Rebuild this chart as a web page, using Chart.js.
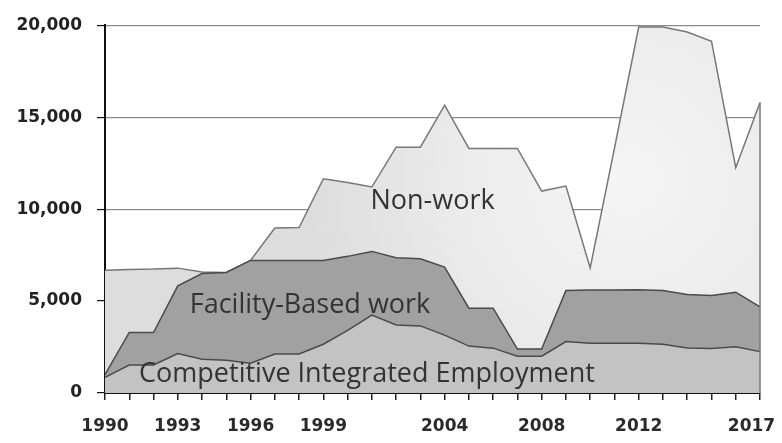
<!DOCTYPE html>
<html>
<head>
<meta charset="utf-8">
<script src="https://cdn.jsdelivr.net/npm/chart.js@4"></script>
<style>
  body{margin:0;background:#fff;}
  #wrap{width:782px;height:443px;}
</style>
</head>
<body>
<div id="wrap"><canvas id="chart" width="782" height="443"></canvas></div>
<script>
const years = ["1990","1991","1992","1993","1994","1995","1996","1997","1998","1999",
  "2000","2001","2002","2003","2004","2005","2006","2007","2008","2009",
  "2010","2011","2012","2013","2014","2015","2016","2017"];
const shownYears = ["1990","1993","1996","1999","2004","2008","2012","2017"];

// stacked from the bottom up
const cieValues      = [850,1520,1520,2150,1830,1780,1620,2120,2120,2650,3400,4240,3700,3650,3150,2550,2440,2000,2000,2800,2700,2700,2700,2650,2450,2420,2520,2250];
const facilityValues = [150,1770,1770,3680,4670,4770,5590,5090,5080,4550,4030,3460,3650,3650,3700,2060,2170,390,390,2770,2900,2900,2910,2920,2910,2880,2960,2430];
const nonworkValues  = [5680,3430,3450,960,80,0,0,1760,1800,4450,4020,3500,6020,6070,8800,8690,8690,10910,8590,5680,1200,7700,14290,14330,14270,13830,6770,11120];

const yTicks = [0,5000,10000,15000,20000];

// in-chart labels: [text, category index, value]
const areaLabels = [
  ["Non-work", 13.5, 10400],
  ["Facility-Based work", 8.45, 4750],
  ["Competitive Integrated Employment", 10.8, 1000]
];

function nonworkFill(ctx){
  const chart = ctx.chart, a = chart.chartArea;
  if(!a) return "#e0e0e0";
  const cx = a.left + (a.right-a.left)*0.8, cy = a.top + (a.bottom-a.top)*0.42;
  const g = chart.ctx.createRadialGradient(cx,cy,0,cx,cy,320);
  g.addColorStop(0,"#f5f5f5");
  g.addColorStop(0.55,"#ebebeb");
  g.addColorStop(1,"#dddddd");
  return g;
}

const decorations = {
  id:"decorations",
  afterDatasetsDraw(chart){
    const c = chart.ctx, x = chart.scales.x, y = chart.scales.y;
    const last = years.length-1;
    const total = cieValues[last]+facilityValues[last]+nonworkValues[last];
    c.save();
    c.strokeStyle = "#7a7a7a"; c.lineWidth = 1.5;
    c.beginPath();
    c.moveTo(x.getPixelForValue(last), y.getPixelForValue(0));
    c.lineTo(x.getPixelForValue(last), y.getPixelForValue(total));
    c.stroke();
    c.fillStyle = "#333";
    c.font = "27px 'Open Sans'";
    c.textAlign = "center"; c.textBaseline = "middle";
    areaLabels.forEach(([t,i,v])=>{
      c.fillText(t, x.left + (x.right-x.left)*i/last, y.getPixelForValue(v));
    });
    c.restore();
  }
};

new Chart(document.getElementById("chart"),{
  type:"line",
  data:{
    labels:years,
    datasets:[
      {label:"Competitive Integrated Employment", data:cieValues, fill:"origin",
       backgroundColor:"#c3c3c3", borderColor:"#4a4a4a", borderWidth:1.5},
      {label:"Facility-Based work", data:facilityValues, fill:"-1",
       backgroundColor:"#a1a1a1", borderColor:"#4a4a4a", borderWidth:1.5},
      {label:"Non-work", data:nonworkValues, fill:"-1",
       backgroundColor:nonworkFill, borderColor:"#777", borderWidth:1.5}
    ]
  },
  options:{
    responsive:false, animation:false, devicePixelRatio:1,
    layout:{padding:{top:16,right:22,left:0,bottom:0}},
    elements:{point:{radius:0}, line:{tension:0}},
    plugins:{legend:{display:false}, tooltip:{enabled:false}},
    scales:{
      x:{
        offset:false,
        grid:{drawOnChartArea:false, tickLength:7, color:"#222", lineWidth:1.5},
        border:{color:"#111", width:2},
        ticks:{autoSkip:false, maxRotation:0, padding:16, color:"#2a2a2a",
          font:{family:"DejaVu Sans", size:17, weight:"bold"},
          callback:(v,i)=>{
            if(!shownYears.includes(years[i])) return "";
            // last label is kept inside the right edge
            return i === years.length-1 ? years[i] + "\u2003" : years[i];
          }},
        afterFit(s){ s.paddingLeft = 0; s.paddingRight = 0; s.height = 50; }
      },
      y:{
        stacked:true, min:0, max:20000,
        afterBuildTicks(s){ s.ticks = yTicks.map(v=>({value:v})); },
        grid:{color:"#8a8a8a", tickColor:"#111", tickLength:8, lineWidth:1.2},
        border:{color:"#111", width:2},
        ticks:{padding:15, color:"#222", font:{family:"DejaVu Sans", size:17, weight:"bold"},
          callback:v=> v.toLocaleString("en-US")},
        afterFit(s){ s.width = 105; }
      }
    }
  },
  plugins:[decorations]
});
</script>
</body>
</html>
